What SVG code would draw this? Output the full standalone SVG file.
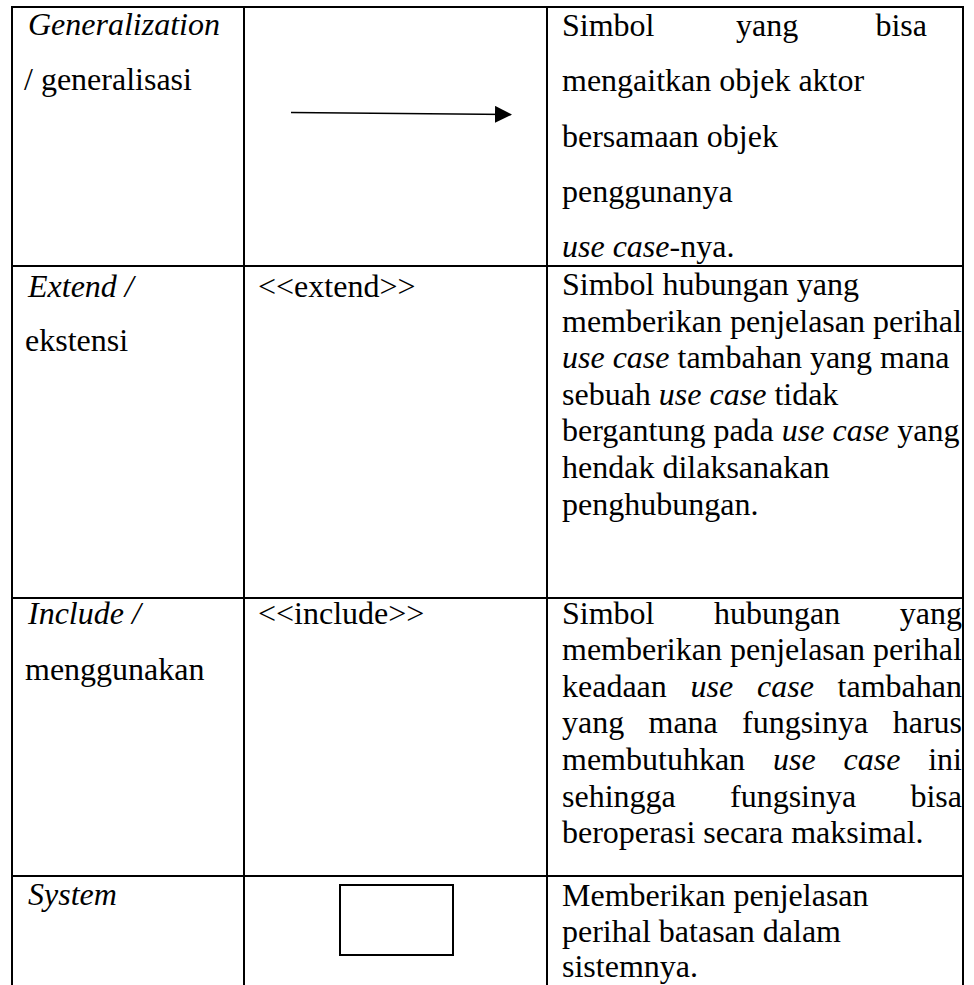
<svg xmlns="http://www.w3.org/2000/svg" width="974" height="985" viewBox="0 0 974 985">
  <style>
    .t { font-family: "Liberation Serif", "Times New Roman", serif; font-size: 32px; fill: #000; }
    .i { font-style: italic; }
    .e { text-anchor: end; }
    .grid line { stroke: #000; stroke-width: 2; }
  </style>
  <defs>
    <marker id="head" markerWidth="17" markerHeight="17" refX="16" refY="8.5" orient="auto" markerUnits="userSpaceOnUse">
      <path d="M0,0 L17,8.5 L0,17 Z" fill="#000"/>
    </marker>
  </defs>
  <rect width="974" height="985" fill="#fff"/>

  <!-- table rules -->
  <g id="grid" class="grid">
    <line x1="11" y1="7" x2="964" y2="7"/>
    <line x1="11" y1="266" x2="964" y2="266"/>
    <line x1="11" y1="598" x2="964" y2="598"/>
    <line x1="11" y1="876" x2="964" y2="876"/>
    <line x1="12" y1="6" x2="12" y2="985"/>
    <line x1="244" y1="6" x2="244" y2="985"/>
    <line x1="547" y1="6" x2="547" y2="985"/>
    <line x1="963" y1="6" x2="963" y2="985"/>
  </g>

  <!-- row: generalization -->
  <g id="row-generalization">
    <text class="t i" x="28" y="35">Generalization</text>
    <text class="t" x="24" y="90">/ generalisasi</text>
    <text class="t" x="562" y="36">Simbol</text>
    <text class="t" x="736" y="36">yang</text>
    <text class="t e" x="927" y="36">bisa</text>
    <text class="t" x="562" y="91">mengaitkan objek aktor</text>
    <text class="t" x="562" y="146.5">bersamaan objek</text>
    <text class="t" x="562" y="202">penggunanya</text>
    <text class="t" x="562" y="257"><tspan class="i">use case</tspan>-nya.</text>
  </g>

  <!-- generalization symbol -->
  <g id="connectors">
    <line x1="291" y1="112.5" x2="511" y2="114.5" stroke="#000" stroke-width="1.4" marker-end="url(#head)"/>
  </g>

  <!-- row: extend -->
  <g id="row-extend">
    <text class="t i" x="28" y="297">Extend /</text>
    <text class="t" x="25" y="351">ekstensi</text>
    <text class="t" x="258" y="297">&lt;&lt;extend&gt;&gt;</text>
    <text class="t" x="562" y="295">Simbol hubungan yang</text>
    <text class="t" x="562" y="331.6">memberikan penjelasan perihal</text>
    <text class="t" x="562" y="368.2"><tspan class="i">use case</tspan> tambahan yang mana</text>
    <text class="t" x="562" y="404.8">sebuah <tspan class="i">use case</tspan> tidak</text>
    <text class="t" x="562" y="441.4">bergantung pada <tspan class="i">use case</tspan> yang</text>
    <text class="t" x="562" y="478">hendak dilaksanakan</text>
    <text class="t" x="562" y="514.6">penghubungan.</text>
  </g>

  <!-- row: include -->
  <g id="row-include">
    <text class="t i" x="28" y="624">Include /</text>
    <text class="t" x="25" y="680">menggunakan</text>
    <text class="t" x="258" y="624">&lt;&lt;include&gt;&gt;</text>

    <text class="t" x="562" y="623.5">Simbol</text>
    <text class="t" x="714" y="623.5">hubungan</text>
    <text class="t e" x="962" y="623.5">yang</text>

    <text class="t" x="562" y="660.1">memberikan penjelasan perihal</text>

    <text class="t" x="562" y="696.7">keadaan</text>
    <text class="t i" x="690.5" y="696.7">use</text>
    <text class="t i" x="757" y="696.7">case</text>
    <text class="t e" x="962" y="696.7">tambahan</text>

    <text class="t" x="562" y="733.3">yang</text>
    <text class="t" x="648.5" y="733.3">mana</text>
    <text class="t" x="742" y="733.3">fungsinya</text>
    <text class="t e" x="962" y="733.3">harus</text>

    <text class="t" x="562" y="769.9">membutuhkan</text>
    <text class="t i" x="773" y="769.9">use</text>
    <text class="t i" x="843.5" y="769.9">case</text>
    <text class="t e" x="962" y="769.9">ini</text>

    <text class="t" x="562" y="806.5">sehingga</text>
    <text class="t" x="730" y="806.5">fungsinya</text>
    <text class="t e" x="962" y="806.5">bisa</text>

    <text class="t" x="562" y="843.1">beroperasi secara maksimal.</text>
  </g>

  <!-- row: system -->
  <g id="row-system">
    <text class="t i" x="28" y="905">System</text>
    <rect x="340" y="885" width="113" height="70" fill="none" stroke="#000" stroke-width="2"/>
    <text class="t" x="562" y="906">Memberikan penjelasan</text>
    <text class="t" x="562" y="942">perihal batasan dalam</text>
    <text class="t" x="562" y="977">sistemnya.</text>
  </g>
</svg>
